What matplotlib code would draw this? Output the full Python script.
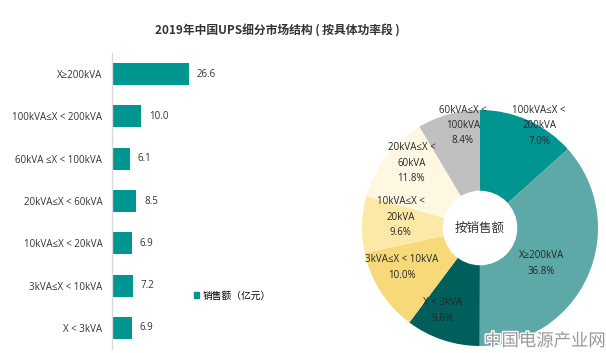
import numpy as np
import matplotlib
matplotlib.use("Agg")
from matplotlib import pyplot as plt
from matplotlib.patches import Patch, Circle
import matplotlib.patheffects as pe

plt.rcParams['font.family'] = ['Open Sans', 'DejaVu Sans', 'Noto Sans CJK SC']

# bar data (亿元)
categories = ["X≥200kVA", "100kVA≤X < 200kVA", "60kVA ≤X < 100kVA", "20kVA≤X < 60kVA",
              "10kVA≤X < 20kVA", "3kVA≤X < 10kVA", "X < 3kVA"]
sales = [26.6, 10.0, 6.1, 8.5, 6.9, 7.2, 6.9]

# pie data, clockwise from 12 o'clock (slice sizes)
pie_names = ["100kVA≤X <\n200kVA", "X≥200kVA", "X < 3kVA", "3kVA≤X < 10kVA",
             "10kVA≤X <\n20kVA", "20kVA≤X <\n60kVA", "60kVA≤X <\n100kVA"]
pie_share = [13.4, 36.8, 10.2, 11.4, 7.8, 12.1, 8.6]
pie_pct = ["7.0%", "36.8%", "9.6%", "10.0%", "9.6%", "11.8%", "8.4%"]
pie_colors = ["#009590", "#5DA9A8", "#005F5B", "#F7D97A", "#FCE9A8", "#FEF7E2", "#C0BFC1"]
label_r = [1.0, 0.6, 0.77, 0.74, 0.68, 0.80, 0.88]

W, H = 606, 353
fig = plt.figure(figsize=(W / 100, H / 100), dpi=100)

fig.text(277 / W, 1 - 31 / H, "2019年中国UPS细分市场结构 ( 按具体功率段 )",
         ha="center", va="center", fontsize=8.5, fontweight="bold", color="#333333",
         family=['Noto Sans CJK SC', 'DejaVu Sans'])

# ---- bars
ax = fig.add_axes([112 / W, 1 - 349 / H, 190 / W, 296 / H])
y = np.arange(len(categories))
ax.barh(y, sales, height=0.52, color="#009590")
ax.set_ylim(len(categories) - 0.5, -0.5)
ax.set_xlim(0, 190 / 2.88)
ax.set_yticks(y)
ax.set_yticklabels(categories, fontsize=7, color="#333333")
ax.tick_params(axis="y", length=0, pad=7)
ax.set_xticks([])
ax.spines[["top", "right", "bottom"]].set_visible(False)
ax.spines["left"].set_color("#D9D9D9")
ax.spines["left"].set_linewidth(1.0)
for yi, v in zip(y, sales):
    ax.annotate("%.1f" % v, (v, yi), xytext=(8, 0), textcoords="offset pixels",
                ha="left", va="center", fontsize=7, color="#333333")

fig.legend(handles=[Patch(color="#009590", label="销售额（亿元）")], loc="center left",
           bbox_to_anchor=(190 / W, 1 - 296 / H), frameon=False, fontsize=7,
           handlelength=0.55, handleheight=0.55, handletextpad=0.3, borderaxespad=0)

# ---- donut pie
R = 118
ax2 = fig.add_axes([(480 - R) / W, (H - 228 - R) / H, 2 * R / W, 2 * R / H])
wedges, _ = ax2.pie(pie_share, colors=pie_colors, startangle=90, counterclock=False,
                    radius=1.0, wedgeprops=dict(linewidth=0))
ax2.add_patch(Circle((0, 0), 0.31, color="white", zorder=3))
ax2.text(0, 0, "按销售额", ha="center", va="center", fontsize=9, color="#333333", zorder=4)
for w, name, pct, r in zip(wedges, pie_names, pie_pct, label_r):
    ang = np.deg2rad((w.theta1 + w.theta2) / 2 - 6)
    ax2.text(r * np.cos(ang), r * np.sin(ang), name + "\n" + pct, ha="center", va="center",
             fontsize=7, color="#262626", linespacing=1.55, zorder=5)
ax2.set_xlim(-1, 1)
ax2.set_ylim(-1, 1)
ax2.set_aspect("equal")
ax2.axis("off")

fig.text(545 / W, 1 - 341 / H, "中国电源产业网", ha="center", va="center", fontsize=12.5,
         color="#9A9A9A", zorder=10, family=['Noto Sans CJK SC'],
         path_effects=[pe.withStroke(linewidth=2, foreground="white")])

fig.savefig("out.png", dpi=100)
